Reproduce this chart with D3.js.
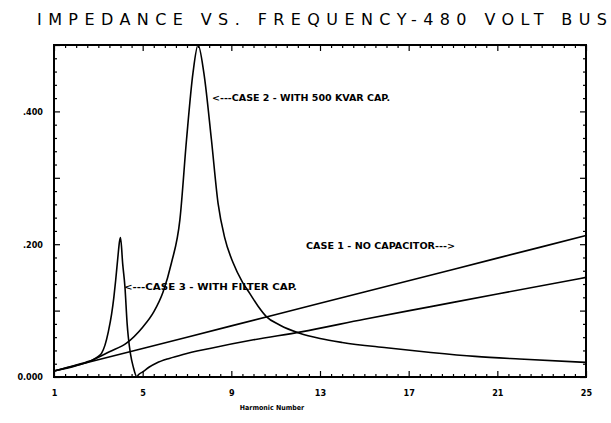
<!DOCTYPE html>
<html>
<head>
<meta charset="utf-8">
<script src="https://cdn.jsdelivr.net/npm/d3@7"></script>
<style>
  body { margin: 0; background: #fff; }
  text { fill: #000; }
</style>
</head>
<body>
<div id="chart"></div>
<script>
// harmonic number / impedance pairs
var case1H = [1, 5, 9, 13, 17, 21, 25];
var case1Z = [0.009, 0.043, 0.077, 0.111, 0.145, 0.179, 0.213];

var case2H = [1, 2, 2.77, 3.5, 4.27, 5, 5.5, 5.92, 6.3, 6.68, 6.98, 7.27, 7.5, 7.76, 8.1, 8.4, 8.7, 9.08, 9.5, 9.83, 10.2, 10.58, 11.2, 12.08, 13, 14, 16, 18, 20, 22, 25];
var case2Z = [0.009, 0.018, 0.026, 0.038, 0.051, 0.075, 0.098, 0.128, 0.172, 0.237, 0.358, 0.458, 0.500, 0.458, 0.358, 0.262, 0.210, 0.172, 0.143, 0.126, 0.107, 0.091, 0.078, 0.066, 0.058, 0.052, 0.044, 0.037, 0.031, 0.027, 0.022];

var case3H = [1, 2, 2.7, 3.0, 3.15, 3.3, 3.45, 3.6, 3.7, 3.78, 3.88, 3.96, 4.0, 4.1, 4.2, 4.3, 4.35, 4.45, 4.57, 4.74, 4.8, 5.02, 5.3, 5.63, 6.2, 6.82, 8.03, 10, 12.15, 15, 18, 21, 25];
var case3Z = [0.009, 0.017, 0.025, 0.031, 0.036, 0.048, 0.068, 0.095, 0.120, 0.145, 0.180, 0.205, 0.210, 0.170, 0.136, 0.080, 0.061, 0.035, 0.016, 0.000, 0.003, 0.008, 0.015, 0.021, 0.028, 0.034, 0.043, 0.056, 0.068, 0.087, 0.106, 0.125, 0.150];

var xLabels = [1, 5, 9, 13, 17, 21, 25];
var yLabels = [0, 0.2, 0.4];

var notes = [
  { text: "<---CASE 2 - WITH 500 KVAR CAP.", x: 212, y: 98, w: 178 },
  { text: "<---CASE 3 - WITH FILTER CAP.", x: 124, y: 287, w: 173 },
  { text: "CASE 1 - NO CAPACITOR--->", x: 306, y: 246, w: 149 }
];

var width = 611, height = 423;
var margin = { top: 45, right: 25, bottom: 46, left: 54 };

var svg = d3.select("#chart").append("svg")
  .attr("width", width)
  .attr("height", height);

svg.append("rect").attr("width", width).attr("height", height).attr("fill", "#fff");

var x = d3.scaleLinear().domain([1, 25]).range([margin.left, width - margin.right]);
var y = d3.scaleLinear().domain([0, 0.5]).range([height - margin.bottom, margin.top]);

// title
svg.append("text")
  .attr("x", 37).attr("y", 25)
  .attr("textLength", 570)
  .attr("lengthAdjust", "spacing")
  .style("font-family", "DejaVu Sans")
  .style("font-size", "16px")
  .text("IMPEDANCE VS. FREQUENCY-480 VOLT BUS");

// inward tick marks on all four sides
var minorX = d3.range(1, 25.01, 0.5);
var minorY = d3.range(0, 0.501, 0.02);

function tickLen(v, step) { return Math.abs(v / step - Math.round(v / step)) < 1e-6 ? 6 : 3; }

svg.append("g")
  .attr("transform", `translate(0, ${y(0)})`)
  .call(d3.axisTop(x).tickValues(minorX).tickFormat("").tickSizeOuter(0))
  .call(g => g.selectAll(".tick line").attr("y2", d => -tickLen(d - 1, 4)));
svg.append("g")
  .attr("transform", `translate(0, ${y(0.5)})`)
  .call(d3.axisBottom(x).tickValues(minorX).tickFormat("").tickSizeOuter(0))
  .call(g => g.selectAll(".tick line").attr("y2", d => tickLen(d - 1, 4)));
svg.append("g")
  .attr("transform", `translate(${x(1)}, 0)`)
  .call(d3.axisRight(y).tickValues(minorY).tickFormat("").tickSizeOuter(0))
  .call(g => g.selectAll(".tick line").attr("x2", d => tickLen(d, 0.1)));
svg.append("g")
  .attr("transform", `translate(${x(25)}, 0)`)
  .call(d3.axisLeft(y).tickValues(minorY).tickFormat("").tickSizeOuter(0))
  .call(g => g.selectAll(".tick line").attr("x2", d => -tickLen(d, 0.1)));
svg.selectAll(".domain").remove();
svg.selectAll(".tick line").attr("stroke", "#000").attr("stroke-width", 1.2);

// frame
svg.append("rect")
  .attr("x", x(1)).attr("y", y(0.5))
  .attr("width", x(25) - x(1)).attr("height", y(0) - y(0.5))
  .attr("fill", "none").attr("stroke", "#000").attr("stroke-width", 2);

// tick labels
var xAxis = svg.append("g")
  .attr("transform", `translate(0, ${y(0)})`)
  .call(d3.axisBottom(x).tickValues(xLabels).tickSize(0).tickPadding(13).tickFormat(d3.format("d")));
var yAxis = svg.append("g")
  .attr("transform", `translate(${x(1)}, 0)`)
  .call(d3.axisLeft(y).tickValues(yLabels).tickSize(0).tickPadding(11)
    .tickFormat(d => d === 0 ? "0.000" : d3.format(".3f")(d).replace(/^0/, "")));
xAxis.select(".domain").remove();
yAxis.select(".domain").remove();
svg.selectAll(".tick text")
  .style("font-family", "DejaVu Sans Condensed")
  .style("font-weight", "bold")
  .style("font-size", "9px");

svg.append("text")
  .attr("x", 272).attr("y", 410)
  .attr("text-anchor", "middle")
  .style("font-family", "DejaVu Sans Condensed")
  .style("font-weight", "bold")
  .style("font-size", "7px")
  .text("Harmonic Number");

// curves
var line = d3.line()
  .x(d => x(d[0]))
  .y(d => y(d[1]))
  .curve(d3.curveMonotoneX);

[[case1H, case1Z], [case2H, case2Z], [case3H, case3Z]].forEach(function (s) {
  svg.append("path")
    .datum(d3.zip(s[0], s[1]))
    .attr("fill", "none")
    .attr("stroke", "#000")
    .attr("stroke-width", 1.6)
    .attr("d", line);
});

// annotations
svg.selectAll(".note")
  .data(notes)
  .join("text")
  .attr("class", "note")
  .attr("x", d => d.x).attr("y", d => d.y + 3)
  .attr("textLength", d => d.w)
  .attr("lengthAdjust", "spacingAndGlyphs")
  .style("font-family", "DejaVu Sans Condensed")
  .style("font-weight", "bold")
  .style("font-size", "8px")
  .text(d => d.text);
</script>
</body>
</html>
